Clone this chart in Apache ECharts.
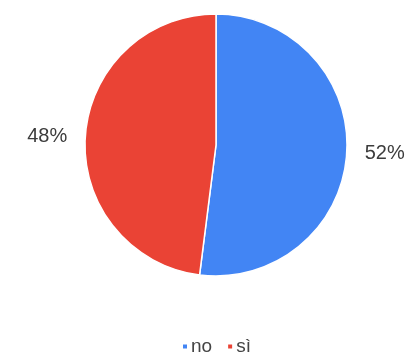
<!DOCTYPE html>
<html>
<head>
<meta charset="utf-8">
<script src="https://cdn.jsdelivr.net/npm/echarts@6/dist/echarts.min.js"></script>
<style>
  html, body { margin: 0; padding: 0; background: #fff; }
  #chart { width: 408px; height: 356px; }
</style>
</head>
<body>
<div id="chart"></div>
<script>
// Answers and their share of responses (percent)
const categories = ['no', 'sì'];
const values = [52, 48];
const colors = ['#4285F4', '#EA4335'];

const chart = echarts.init(document.getElementById('chart'), null, { renderer: 'canvas' });

chart.setOption({
  animation: false,
  color: colors,
  legend: {
    data: categories,
    top: 337,
    left: 181,
    icon: 'rect',
    itemWidth: 6,
    itemHeight: 6,
    itemGap: 14,
    padding: 0,
    textStyle: { fontFamily: 'Liberation Sans, Arial, sans-serif', fontSize: 19, color: '#444', padding: [0, 0, 0, -2] }
  },
  series: [{
    type: 'pie',
    center: [216, 145],
    radius: ['0%', 131],
    startAngle: 90,
    clockwise: true,
    data: categories.map((name, i) => ({ name, value: values[i] })),
    itemStyle: { borderColor: '#fff', borderWidth: 1.5 },
    label: {
      show: true,
      position: 'outside',
      formatter: p => p.value + '%',
      fontFamily: 'Liberation Sans, Arial, sans-serif',
      fontSize: 20,
      color: '#3c3c3c',
      overflow: 'none'
    },
    labelLine: { show: false, length: 6, length2: 7 },
    emphasis: { disabled: true }
  }]
});
</script>
</body>
</html>
